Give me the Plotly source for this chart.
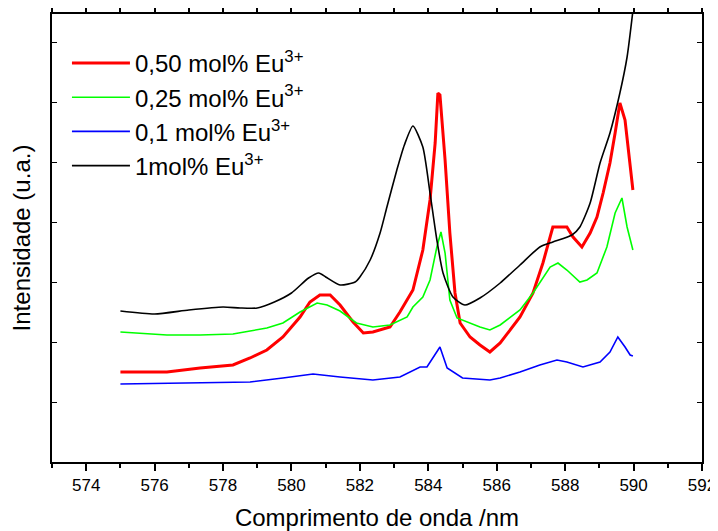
import plotly.graph_objects as go

# wavelength (nm) / intensity (a.u.)
x_red = [575, 576.36, 577.33, 578.29, 578.79, 579.28, 579.75, 580.25, 580.54, 580.83,
         581.13, 581.42, 581.8, 582.1, 582.38, 582.88, 583.17, 583.55, 583.84, 584.05,
         584.2, 584.28, 584.34, 584.40, 584.49, 584.63, 584.78, 584.93, 585.22, 585.51,
         585.8, 586.1, 586.68, 587.06, 587.35, 587.64, 588.05, 588.23, 588.49, 588.73,
         588.93, 589.11, 589.31, 589.46, 589.6, 589.75, 589.84, 589.95, 589.98]
y_red = [90, 90, 94, 97, 104, 112, 125, 145, 160, 167,
         167, 157, 140, 129, 130, 135, 150, 172, 212, 262,
         319, 369, 367, 342, 302, 229, 169, 139, 125, 117,
         110, 119, 145, 169, 199, 235, 235, 225, 215, 229,
         245, 269, 299, 329, 359, 342, 312, 279, 272]

x_green = [575, 576.36, 577.33, 578.29, 578.79, 579.28, 579.75, 580.25, 580.75, 581.04,
           581.42, 581.9, 582.38, 582.88, 583.38, 583.55, 583.84, 584.05, 584.25, 584.37,
           584.49, 584.63, 584.84, 585.51, 585.8, 586.1, 586.68, 587.06, 587.56, 587.79,
           588.05, 588.43, 588.64, 588.93, 589.22, 589.46, 589.66, 589.81, 589.98]
y_green = [130, 127, 127, 128, 131, 134, 139, 150, 159, 157,
           151, 139, 135, 137, 145, 155, 165, 182, 215, 230,
           209, 162, 144, 135, 132, 137, 152, 169, 195, 199,
           192, 180, 182, 189, 215, 249, 264, 235, 212]

x_blue = [575, 577.33, 578.79, 579.75, 580.63, 581.42, 582.38, 583.17, 583.76, 583.96,
          584.34, 584.55, 585.0, 585.8, 586.1, 586.68, 587.26, 587.76, 588.05, 588.52,
          589.02, 589.31, 589.54, 589.75, 589.9, 589.98]
y_blue = [78, 79, 80, 84, 88, 85, 82, 85, 95, 95,
          115, 94, 84, 82, 84, 90, 97, 102, 100, 95,
          100, 110, 125, 115, 107, 106]

x_black = [575, 576, 577, 578, 578.5, 579, 579.5, 580, 580.5, 580.8,
           581.0, 581.42, 581.86, 582.0, 582.3, 582.59, 582.79, 583.08, 583.3, 583.55,
           583.84, 584.05, 584.25, 584.43, 584.72, 585.07, 585.51, 586.1, 586.68, 587.26,
           587.64, 588.2, 588.43, 588.73, 589.02, 589.31, 589.6, 589.81, 590.0]
y_black = [151, 148, 152, 155, 154, 154, 160, 169, 184, 189,
           185, 177, 180, 185, 202, 229, 255, 292, 317, 336,
           315, 269, 222, 189, 165, 157, 164, 179, 197, 215,
           220, 227, 235, 259, 299, 329, 369, 405, 457]

names = ["0,50 mol% Eu<sup>3+</sup>", "0,25 mol% Eu<sup>3+</sup>",
         "0,1 mol% Eu<sup>3+</sup>", "1mol% Eu<sup>3+</sup>"]

x_ticks = [574, 576, 578, 580, 582, 584, 586, 588, 590, 592]

FONT = "Liberation Sans, Arial, sans-serif"

fig = go.Figure()
fig.add_trace(go.Scatter(x=x_red, y=y_red, mode="lines", name=names[0],
                         line=dict(color="#FF0000", width=3)))
fig.add_trace(go.Scatter(x=x_green, y=y_green, mode="lines", name=names[1],
                         line=dict(color="#00FF00", width=1.6)))
fig.add_trace(go.Scatter(x=x_blue, y=y_blue, mode="lines", name=names[2],
                         line=dict(color="#0000FF", width=1.6)))
fig.add_trace(go.Scatter(x=x_black, y=y_black, mode="lines", name=names[3],
                         line=dict(color="#000000", width=1.6, shape="spline", smoothing=0.6)))

# page body has an 8px margin, so the figure is sized/offset to compensate
fig.update_layout(
    width=710, height=523,
    margin=dict(l=44, r=16, t=6, b=69),
    paper_bgcolor="white", plot_bgcolor="white",
    font=dict(family=FONT, color="black"),
    showlegend=True,
    legend=dict(x=0.023, y=0.94, xanchor="left", yanchor="top",
                bgcolor="rgba(0,0,0,0)", font=dict(size=24, family=FONT),
                itemwidth=58, tracegroupgap=0),
    xaxis=dict(range=[573, 592], tickvals=x_ticks, ticktext=[str(v) for v in x_ticks],
               showgrid=False, zeroline=False, showline=True, linecolor="black",
               linewidth=2, mirror="allticks", ticks="outside", ticklen=7, tickwidth=1.5,
               tickcolor="black", automargin=False,
               minor=dict(dtick=1, tick0=573, ticks="outside", ticklen=4, tickwidth=1.5,
                          tickcolor="black", showgrid=False),
               tickfont=dict(size=17, family=FONT),
               title=dict(text="Comprimento de onda /nm", font=dict(size=24, family=FONT),
                          standoff=21)),
    yaxis=dict(range=[0, 448], dtick=60, tick0=0, showticklabels=False,
               showgrid=False, zeroline=False, showline=True, linecolor="black",
               linewidth=2, mirror="ticks", ticks="inside", ticklen=5, tickwidth=1.2,
               tickcolor="black", automargin=False,
               title=dict(text="Intensidade (u.a.)", font=dict(size=24, family=FONT),
                          standoff=15)),
)

fig.write_html("out.html")
